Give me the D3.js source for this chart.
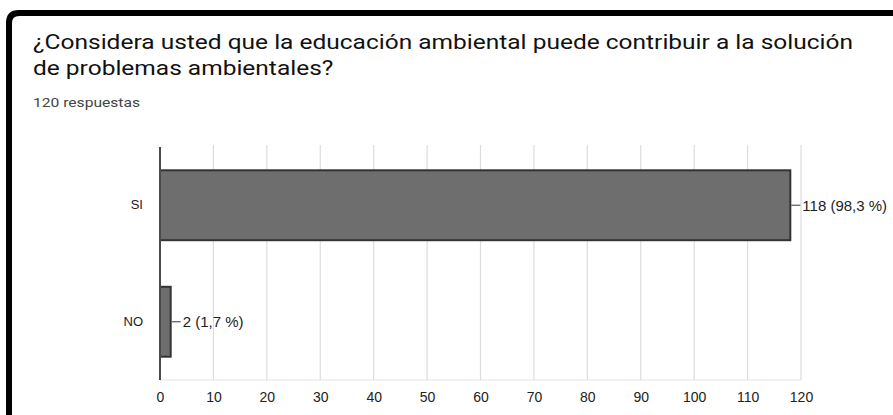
<!DOCTYPE html>
<html>
<head>
<meta charset="utf-8">
<script src="https://cdn.jsdelivr.net/npm/d3@7"></script>
<style>
  html, body { margin: 0; padding: 0; background: #fff; }
  svg { display: block; }
</style>
</head>
<body>
<svg id="chart" width="893" height="415"></svg>
<script>
const titleLines = ["¿Considera usted que la educación ambiental puede contribuir a la solución", "de problemas ambientales?"];
const subtitle = "120 respuestas";
const categories = ["SI", "NO"];
const values = [118, 2];
const valueLabels = ["118 (98,3 %)", "2 (1,7 %)"];
const xTicks = [0, 10, 20, 30, 40, 50, 60, 70, 80, 90, 100, 110, 120];

const svg = d3.select("#chart");
const W = 893, H = 415;

// frame (top + left border with rounded corner)
const r = 10;
svg.append("path")
  .attr("d", `M9,${H + 5} L9,${13 + r} Q9,13 ${9 + r},13 L${W + 5},13`)
  .attr("fill", "none").attr("stroke", "#000").attr("stroke-width", 6);

// title (source image is stretched horizontally)
const titleFont = "Roboto, 'Noto Sans', sans-serif";
const tLines = titleLines.map((l, i) => svg.append("text")
  .attr("x", 33).attr("y", 49 + i * 26)
  .attr("font-family", titleFont)
  .attr("font-size", 20).attr("fill", "#111").text(l));
const stretch = 820 / tLines[0].node().getComputedTextLength();
tLines.forEach(t => {
  const w = t.node().getComputedTextLength();
  t.attr("textLength", w * stretch).attr("lengthAdjust", "spacingAndGlyphs");
});
const sub = svg.append("text").attr("x", 33).attr("y", 107)
  .attr("font-family", titleFont)
  .attr("font-size", 13.5).attr("fill", "#444").text(subtitle);
sub.attr("textLength", 107).attr("lengthAdjust", "spacingAndGlyphs");

// plot area
const m = { left: 160, right: 801, top: 147, bottom: 380 };
const x = d3.scaleLinear().domain([0, 120]).range([m.left, m.right]);
const y = d3.scaleBand().domain(categories).range([m.top, m.bottom]).paddingInner(0.4).paddingOuter(0.2);

const g = svg.append("g");

// gridlines
g.selectAll("line.grid").data(xTicks.slice(1)).join("line")
  .attr("class", "grid")
  .attr("x1", d => x(d)).attr("x2", d => x(d))
  .attr("y1", m.top - 2).attr("y2", m.bottom)
  .attr("stroke", "#dcdcdc").attr("stroke-width", 1.2);
g.append("line").attr("x1", m.left).attr("x2", m.right)
  .attr("y1", m.bottom).attr("y2", m.bottom)
  .attr("stroke", "#e4e4e4").attr("stroke-width", 1.2);

// x axis via d3.axisBottom
const xAxis = d3.axisBottom(x).tickValues(xTicks).tickSize(0).tickPadding(12);
const ax = svg.append("g").attr("transform", `translate(0,${m.bottom})`).call(xAxis);
ax.select(".domain").remove();
ax.selectAll("text")
  .attr("font-family", "'Liberation Sans', Arial, sans-serif")
  .attr("font-size", 14).attr("fill", "#222");

// bars
g.selectAll("rect.bar").data(values).join("rect")
  .attr("class", "bar")
  .attr("x", x(0))
  .attr("y", (d, i) => y(categories[i]))
  .attr("width", d => x(d) - x(0))
  .attr("height", y.bandwidth())
  .attr("fill", "#6e6e6e")
  .attr("stroke", "#333").attr("stroke-width", 2);

// left axis line
g.append("line").attr("x1", m.left).attr("x2", m.left)
  .attr("y1", m.top).attr("y2", m.bottom)
  .attr("stroke", "#4a4a4a").attr("stroke-width", 2);

// category labels
const yAxis = d3.axisLeft(y).tickSize(0).tickPadding(17);
const ay = svg.append("g").attr("transform", `translate(${m.left},0)`).call(yAxis);
ay.select(".domain").remove();
ay.selectAll("text")
  .attr("font-family", "'Liberation Sans', Arial, sans-serif")
  .attr("font-size", 13).attr("fill", "#222");

// value labels with leader lines
values.forEach((v, i) => {
  const cy = y(categories[i]) + y.bandwidth() / 2;
  g.append("line").attr("x1", x(v) + 1).attr("x2", x(v) + 10)
    .attr("y1", cy).attr("y2", cy).attr("stroke", "#555").attr("stroke-width", 1.2);
  g.append("text").attr("x", x(v) + 12).attr("y", cy).attr("dy", "0.35em")
    .attr("font-family", "'Liberation Sans', Arial, sans-serif")
    .attr("font-size", 15).attr("fill", "#222").text(valueLabels[i]);
});
</script>
</body>
</html>
